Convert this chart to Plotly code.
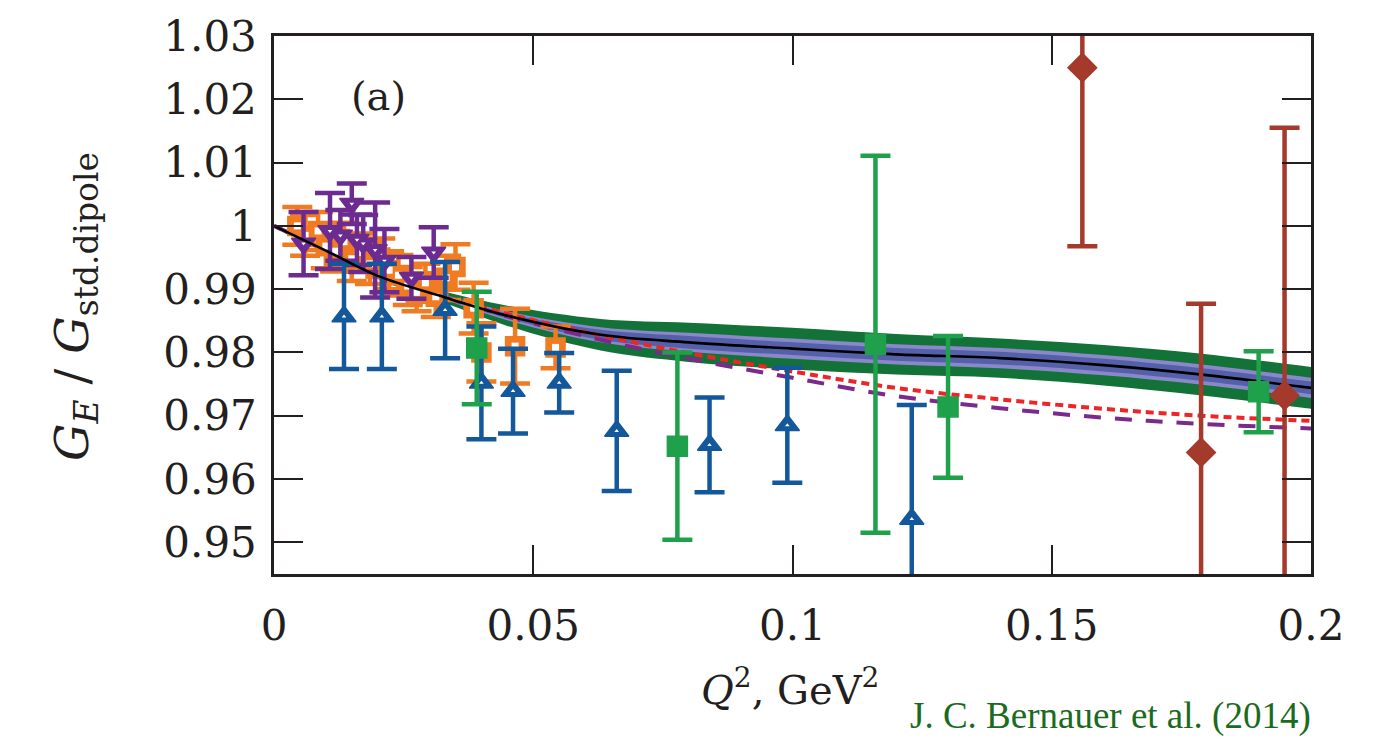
import plotly.graph_objects as go

# ---------------- data ----------------
fit_q2 = [0.0, 0.01, 0.02, 0.033, 0.045, 0.063, 0.08, 0.1, 0.12, 0.14, 0.16, 0.179, 0.2]
fit_center = [1.0, 0.9961, 0.9921, 0.9887, 0.9858, 0.9828, 0.9816, 0.9806, 0.9797, 0.9791, 0.9780, 0.9765, 0.9744]
green_hw = [0.0, 0.0002, 0.0005, 0.0009, 0.0016, 0.0025, 0.0031, 0.0033, 0.0032, 0.0031, 0.0032, 0.0033, 0.0033]
lavender_hw = [0.0, 0.0001, 0.0002, 0.0004, 0.0007, 0.0012, 0.0015, 0.0016, 0.0016, 0.0016, 0.0016, 0.0016, 0.0016]
darkblue_hw = [0.0, 0.0, 0.0001, 0.0002, 0.0004, 0.0008, 0.0010, 0.0010, 0.0010, 0.0010, 0.0010, 0.0010, 0.0010]
red_dotted = [1.0, 0.9961, 0.9921, 0.9888, 0.9861, 0.9827, 0.9799, 0.9770, 0.9744, 0.9726, 0.9711, 0.9700, 0.9692]
purple_dashed = [1.0, 0.9961, 0.9920, 0.9887, 0.9857, 0.9820, 0.9790, 0.9760, 0.9731, 0.9712, 0.9697, 0.9687, 0.9680]

orange_q2 = [0.0045, 0.0060, 0.0085, 0.0100, 0.0118, 0.0135, 0.0150, 0.0168, 0.0185, 0.0205,
             0.0222, 0.0240, 0.0258, 0.0275, 0.0292, 0.0312, 0.0332, 0.0350, 0.0385, 0.0400,
             0.0465, 0.0543]
orange_val = [1.0000, 0.9985, 0.9992, 0.9968, 0.9960, 0.9975, 0.9948, 0.9958, 0.9940, 0.9950,
              0.9930, 0.9922, 0.9905, 0.9895, 0.9910, 0.9888, 0.9918, 0.9935, 0.9870, 0.9800,
              0.9810, 0.9808]
orange_err = [0.0030, 0.0032, 0.0030, 0.0035, 0.0032, 0.0030, 0.0035, 0.0030, 0.0032, 0.0030,
              0.0030, 0.0032, 0.0030, 0.0030, 0.0030, 0.0032, 0.0035, 0.0036, 0.0040, 0.0046,
              0.0059, 0.0033]

purple_q2 = [0.0057, 0.0108, 0.0128, 0.0150, 0.0160, 0.0172, 0.0195, 0.0213, 0.0265, 0.0308]
purple_val = [0.9972, 0.9992, 0.9985, 1.0035, 0.9978, 0.9972, 0.9962, 0.9945, 0.9918, 0.9958]
purple_err = [0.0050, 0.0060, 0.0040, 0.0032, 0.0040, 0.0045, 0.0075, 0.0050, 0.0033, 0.0040]

blue_q2 = [0.0135, 0.0208, 0.0330, 0.0400, 0.0461, 0.0550, 0.0661, 0.0840, 0.0990, 0.1230]
blue_val = [0.9857, 0.9857, 0.9867, 0.9752, 0.9739, 0.9752, 0.9676, 0.9654, 0.9685, 0.9537]
blue_err = [0.0083, 0.0083, 0.0076, 0.0089, 0.0067, 0.0047, 0.0095, 0.0075, 0.0091, 0.0180]

green_q2 = [0.0391, 0.0778, 0.1160, 0.1300, 0.1899]
green_val = [0.9807, 0.9652, 0.9813, 0.9714, 0.9738]
green_err = [0.0089, 0.0148, 0.0298, 0.0112, 0.0064]

red_q2 = [0.1559, 0.1788, 0.1949]
red_val = [1.0250, 0.9642, 0.9732]
red_err = [0.0282, 0.0235, 0.0423]

x_ticks = [0, 0.05, 0.1, 0.15, 0.2]
x_ticktext = ["0", "0.05", "0.1", "0.15", "0.2"]
y_ticks = [0.95, 0.96, 0.97, 0.98, 0.99, 1.0, 1.01, 1.02, 1.03]
y_ticktext = ["0.95", "0.96", "0.97", "0.98", "0.99", "1", "1.01", "1.02", "1.03"]

# ---------------- figure ----------------
W, H = 1373, 743
L, R, T, B = 274, 62, 32, 169
FONT = "DejaVu Serif"
AX = "#231f20"

fig = go.Figure()


def add_band(hw, color):
    up = [c + h for c, h in zip(fit_center, hw)]
    lo = [c - h for c, h in zip(fit_center, hw)]
    fig.add_trace(go.Scatter(x=fit_q2, y=lo, mode="lines",
                             line=dict(width=0, shape="spline", color=color),
                             showlegend=False, hoverinfo="skip"))
    fig.add_trace(go.Scatter(x=fit_q2, y=up, mode="lines",
                             line=dict(width=0, shape="spline", color=color),
                             fill="tonexty", fillcolor=color,
                             showlegend=False, hoverinfo="skip"))


add_band(green_hw, "#127238")
add_band(lavender_hw, "#8a88c8")
add_band(darkblue_hw, "#5560aa")

fig.add_trace(go.Scatter(x=fit_q2, y=red_dotted, mode="lines",
                         line=dict(color="#ee2426", width=4, dash="8px,5px", shape="spline"),
                         showlegend=False))
fig.add_trace(go.Scatter(x=fit_q2, y=purple_dashed, mode="lines",
                         line=dict(color="#7b2a8c", width=4, dash="17px,14px", shape="spline"),
                         showlegend=False))


def add_points(xs, ys, es, color, symbol, size, hole_symbol=None, hole_size=0):
    fig.add_trace(go.Scatter(
        x=xs, y=ys, mode="markers",
        marker=dict(symbol=symbol, size=size, color=color,
                    line=dict(color=color, width=1.5)),
        error_y=dict(type="data", array=es, visible=True, color=color,
                     thickness=4.5, width=15),
        showlegend=False))
    if hole_symbol:
        fig.add_trace(go.Scatter(
            x=xs, y=ys, mode="markers",
            marker=dict(symbol=hole_symbol, size=hole_size, color="white",
                        line=dict(width=0)),
            showlegend=False, hoverinfo="skip"))


add_points(orange_q2, orange_val, orange_err, "#f07b22", "square", 19, "square", 7)
add_points(purple_q2, purple_val, purple_err, "#6b2b90", "triangle-down", 21, "triangle-down", 4)
add_points(blue_q2, blue_val, blue_err, "#13589a", "triangle-up", 21, "triangle-up", 4)

fig.add_trace(go.Scatter(x=fit_q2, y=fit_center, mode="lines",
                         line=dict(color="black", width=2.6, shape="spline"),
                         showlegend=False))

add_points(green_q2, green_val, green_err, "#1fa04a", "square", 20)
add_points(red_q2, red_val, red_err, "#a43a2b", "diamond", 22)

pw = W - L - R
ph = H - T - B


def px(xp):
    return (xp - L) / pw


def py(yp):
    return (H - B - yp) / ph


annotations = [
    dict(text="(a)", x=px(378), y=py(92), xref="paper", yref="paper",
         showarrow=False, font=dict(family=FONT, size=40, color=AX),
         xanchor="center", yanchor="middle"),
    dict(text="<i>G</i><sub><i>E</i></sub> / <i>G</i><sub>std.dipole</sub>",
         x=px(75), y=py(305), xref="paper", yref="paper", textangle=-90,
         showarrow=False, font=dict(family=FONT, size=47, color=AX),
         xanchor="center", yanchor="middle"),
    dict(text="<i>Q</i><sup>2</sup>, GeV<sup>2</sup>",
         x=px(790), y=py(688), xref="paper", yref="paper",
         showarrow=False, font=dict(family=FONT, size=40, color=AX),
         xanchor="center", yanchor="middle"),
    dict(text="J. C. Bernauer et al. (2014)",
         x=px(1313), y=py(717), xref="paper", yref="paper",
         showarrow=False, font=dict(family="Liberation Serif", size=37, color="#1b6a1e"),
         xanchor="right", yanchor="middle"),
]

axis_common = dict(ticks="inside", ticklen=29, tickwidth=2, tickcolor=AX,
                   showline=True, linecolor=AX, linewidth=2.5, mirror="ticks",
                   showgrid=False, zeroline=False,
                   tickfont=dict(family=FONT, size=42, color=AX))

fig.update_layout(
    width=W, height=H, autosize=False,
    margin=dict(l=L, r=R, t=T, b=B, pad=0),
    paper_bgcolor="white", plot_bgcolor="white",
    showlegend=False,
    xaxis=dict(range=[0, 0.2], tickvals=x_ticks, ticktext=x_ticktext,
               ticklabelstandoff=13, **axis_common),
    yaxis=dict(range=[0.945, 1.03], tickvals=y_ticks, ticktext=y_ticktext,
               ticklabelstandoff=6, **axis_common),
    annotations=annotations,
)

fig.write_html("out.html", config={"displayModeBar": False})
